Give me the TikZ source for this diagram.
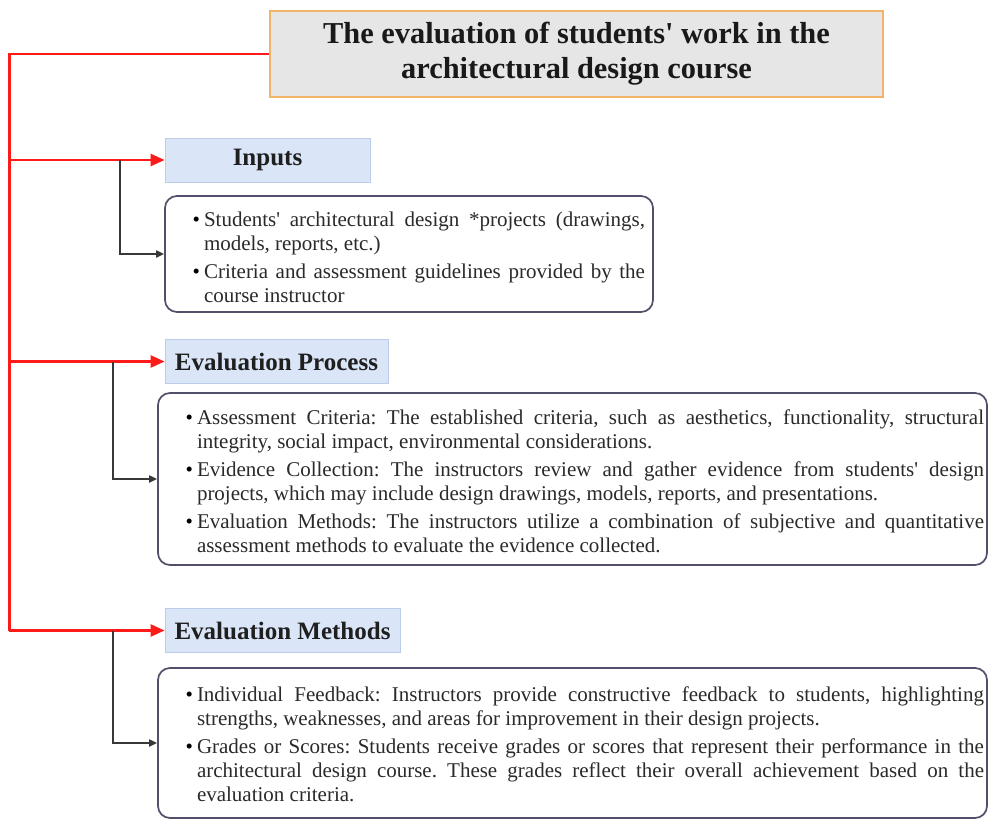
\documentclass[tikz,border=0pt]{standalone}
\usepackage{fontspec}
\setmainfont{Liberation Serif}[Ligatures=TeXOff]
\usetikzlibrary{arrows.meta,calc}

\definecolor{titlefill}{HTML}{E6E6E6}
\definecolor{titleline}{HTML}{F2B468}
\definecolor{headfill}{HTML}{DAE5F8}
\definecolor{headline}{HTML}{BCCDEA}
\definecolor{boxline}{HTML}{50506A}
\definecolor{bodytext}{HTML}{2A2A2A}
\definecolor{linkgray}{HTML}{383838}
\definecolor{railred}{HTML}{FF1A1A}

% bullet item with a hanging indent given by \leftskip
\newcommand{\bulletitem}{\par\noindent\llap{\textcolor{black}{\textbullet}\hspace{4pt}}}
\newcommand{\listsetup}[1]{\frenchspacing\tolerance=10000 \hbadness=10000 \leftskip=#1 \parskip=4pt}

\begin{document}
\begin{tikzpicture}[x=1pt,y=-1pt,
  titlebox/.style={draw=titleline, line width=1.6pt, fill=titlefill,
    minimum width=613pt, minimum height=86pt, inner sep=0pt, align=center,
    font=\fontsize{30.4}{35}\selectfont\bfseries, text=black!90},
  headbox/.style={draw=headline, line width=0.8pt, fill=headfill,
    minimum height=44pt, inner sep=0pt,
    font=\fontsize{25}{29}\selectfont\bfseries, text=black!88},
  listbox/.style={draw=boxline, line width=1.7pt, rounded corners=12pt,
    fill=white, inner ysep=0pt, align=justify,
    font=\fontsize{21}{24}\selectfont, text=bodytext},
  redrail/.style={draw=railred, line width=2.6pt, line join=miter},
  redlink/.style={draw=railred, line width=2.6pt, -{Triangle[length=14pt,width=12pt]}},
  greylink/.style={draw=linkgray, line width=1.8pt, -{Triangle[length=8pt,width=7pt]}}
]
\useasboundingbox (0,0) rectangle (989,820);

% title
\node[titlebox] (title) at (576.5,54)
  {The evaluation of students' work in the\\architectural design course};

% section headers
\node[headbox, minimum width=205pt] (inputs) at (267.5,160) {Inputs};
\node[headbox, minimum width=223pt] (process) at (276.5,361.5) {Evaluation Process};
\node[headbox, minimum width=235pt] (methods) at (282.5,630.5) {Evaluation Methods};

% section contents
\node[listbox, text width=472pt, inner xsep=8pt, minimum height=116pt] (inputsbox) at (409,254)
  {\listsetup{31pt}%
   \bulletitem Students' architectural design *projects (drawings,\linebreak models, reports, etc.)
   \bulletitem Criteria and assessment guidelines provided by the\linebreak course instructor\par
   \vspace{6pt}};

\node[listbox, text width=823pt, inner xsep=3pt, minimum height=172pt] (processbox) at (572.5,479)
  {\listsetup{36pt}%
   \bulletitem Assessment Criteria: The established criteria, such as aesthetics, functionality, structural\linebreak integrity, social impact, environmental considerations.
   \bulletitem Evidence Collection: The instructors review and gather evidence from students' design\linebreak projects, which may include design drawings, models, reports, and presentations.
   \bulletitem Evaluation Methods: The instructors utilize a combination of subjective and quantitative\linebreak assessment methods to evaluate the evidence collected.\par
   \vspace{8pt}};

\node[listbox, text width=823pt, inner xsep=3pt, minimum height=150pt] (methodsbox) at (572.5,743)
  {\listsetup{36pt}%
   \bulletitem Individual Feedback: Instructors provide constructive feedback to students, highlighting\linebreak strengths, weaknesses, and areas for improvement in their design projects.
   \bulletitem Grades or Scores: Students receive grades or scores that represent their performance in the\linebreak architectural design course. These grades reflect their overall achievement based on the\linebreak evaluation criteria.\par
   \vspace{10pt}};

% red rail from the title to the three headers
\coordinate (rail) at ($(title.west)+(-260,0)$);
\draw[redrail] (title.west) -- (rail) -- (rail |- methods.west);
\draw[redlink] (rail |- inputs.west) -- (inputs.west);
\draw[redlink] (rail |- process.west) -- (process.west);
\draw[redlink] (rail |- methods.west) -- (methods.west);

% grey links from each branch to its content box
\coordinate (g1) at ($(inputs.west)+(-45,0)$);
\coordinate (g2) at ($(process.west)+(-52,0)$);
\coordinate (g3) at ($(methods.west)+(-52,0)$);
\draw[greylink] (g1) |- (inputsbox.west);
\draw[greylink] (g2) |- (processbox.west);
\draw[greylink] (g3) |- (methodsbox.west);
\end{tikzpicture}
\end{document}
